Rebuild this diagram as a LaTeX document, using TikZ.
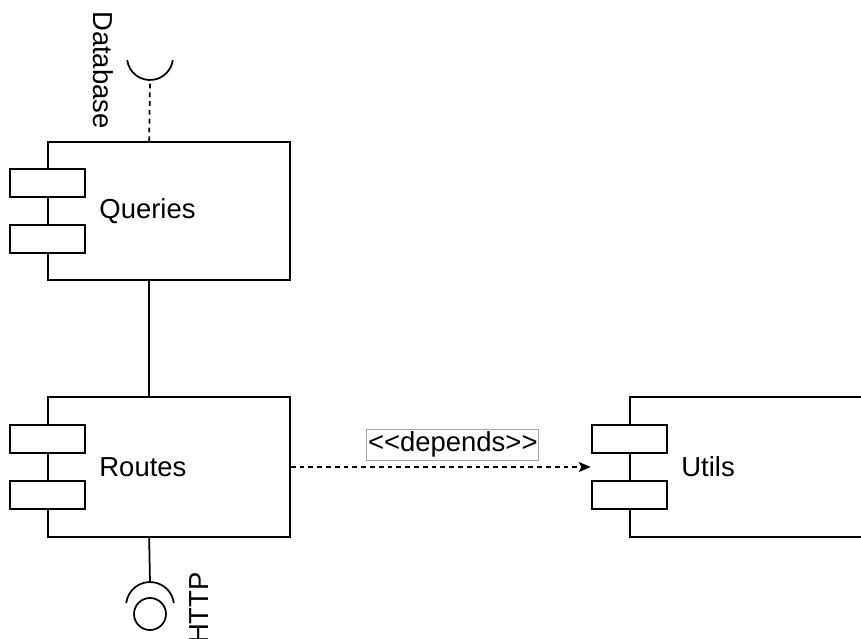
\documentclass[tikz,border=0pt]{standalone}
\usepackage{fontspec}
\setmainfont{Liberation Sans}
\usetikzlibrary{arrows.meta,calc}

\tikzset{
  line/.style={draw=black, line width=1.3pt},
  comp/.style={line, rectangle, fill=white, inner sep=0pt},
  tab/.style={line, rectangle, fill=white, inner sep=0pt,
    minimum width=75*0.75pt, minimum height=28*0.75pt},
  lbl/.style={font=\fontsize{20.6}{24}\selectfont, inner sep=0pt, text=black},
  dashline/.style={line, dash pattern=on 3.6pt off 3pt},
  dep/.style={dashline, -{Stealth[length=9pt, width=7.5pt, inset=2pt]}},
  stereo/.style={lbl, solid, draw=gray!70, line width=0.7pt, fill=white,
    inner xsep=1pt, inner ysep=2.2pt}
}

\begin{document}
\begin{tikzpicture}[x=0.75pt, y=-0.75pt]
  \useasboundingbox (0,0) rectangle (861,639);

  % component boxes
  \node[comp, minimum width=242*0.75pt, minimum height=138*0.75pt] (q) at (169,211) {};
  \node[comp, minimum width=242*0.75pt, minimum height=140*0.75pt] (r) at (169,467) {};
  \node[comp, minimum width=270*0.75pt, minimum height=140*0.75pt] (u) at (765,467) {};

  % tabs on the left edges
  \node[tab] (q1) at ($(q.west)+(0,-28)$) {};
  \node[tab] (q2) at ($(q.west)+(0,28)$) {};
  \node[tab] (r1) at ($(r.west)+(0,-28)$) {};
  \node[tab] (r2) at ($(r.west)+(0,28)$) {};
  \node[tab] (u1) at ($(u.west)+(0,-28)$) {};
  \node[tab] (u2) at ($(u.west)+(0,28)$) {};

  % component names
  \node[lbl, anchor=west] (qt) at ($(q.west)+(52,0)$) {Queries};
  \node[lbl, anchor=west] (rt) at ($(r.west)+(52,0)$) {Routes};
  \node[lbl, anchor=west] (ut) at ($(u.west)+(52,0)$) {Utils};

  % ports
  \coordinate (qtop) at ($(q.north west)+(102,0)$);
  \coordinate (qbot) at ($(q.south west)+(102,0)$);
  \coordinate (rtop) at ($(r.north west)+(102,0)$);
  \coordinate (rbot) at ($(r.south west)+(102,0)$);
  \coordinate (sock) at (150,80);
  \coordinate (lolli) at (150,582);
  \coordinate (utab) at ($(u1.south west)!0.5!(u2.north west)$);

  % Queries -- Routes
  \draw[line] (qbot) -- (rtop);

  % required interface: Database
  \draw[dashline] (qtop) -- (sock);
  \draw[line] (127.2,60.2) arc[start angle=172, end angle=8, radius=23];
  \node[lbl, rotate=-90] (db) at (103,70) {Database};

  % provided interface: HTTP
  \draw[line] (rbot) -- (lolli);
  \draw[line] (126.2,603.1) arc[start angle=187, end angle=353, radius=24];
  \draw[line] (150,614) circle[radius=16];
  \node[lbl, rotate=90] (http) at (199,608) {HTTP};

  % dependency
  \draw[dep] (r.east) -- node[stereo, pos=0.54, above=4.5pt] (depl) {<{}<depends>{}>} (utab);
\end{tikzpicture}
\end{document}
